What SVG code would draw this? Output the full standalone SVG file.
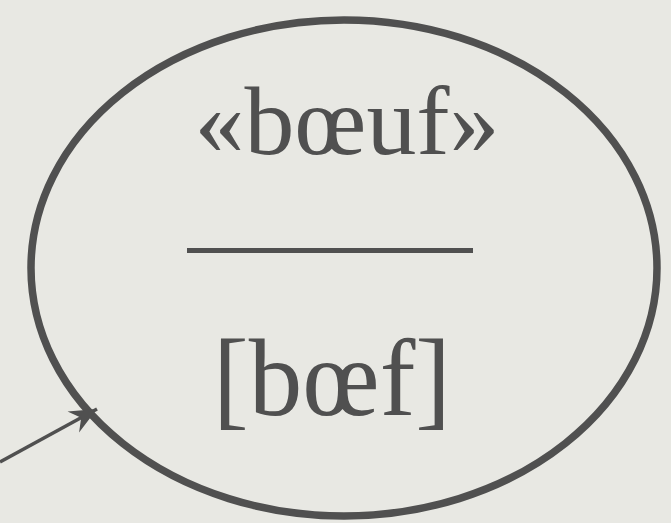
<svg xmlns="http://www.w3.org/2000/svg" width="671" height="523" viewBox="0 0 671 523">
<defs>
<style>
.ink{fill:none;stroke:#505050}
.lbl{font-family:"Liberation Serif","DejaVu Serif",serif;fill:#505050;text-anchor:middle}
</style>
<marker id="head" markerUnits="userSpaceOnUse" markerWidth="40" markerHeight="40" viewBox="-30 -15 40 30" refX="0" refY="0" orient="auto">
<path d="M0,0 L-27,-12 L-18,0 L-27,12 Z" fill="#505050"/>
</marker>
</defs>
<rect width="671" height="523" fill="#e8e8e3"/>
<g id="node-boeuf">
<ellipse class="ink" cx="344" cy="268" rx="313" ry="248" stroke-width="7.5"/>
<text class="lbl" x="347" y="154" font-size="97" textLength="305" lengthAdjust="spacingAndGlyphs">«bœuf»</text>
<line class="ink" x1="187" y1="250.5" x2="473" y2="250.5" stroke-width="5"/>
<text class="lbl" x="332" y="415" font-size="110" textLength="238" lengthAdjust="spacingAndGlyphs">[bœf]</text>
</g>
<g id="connectors">
<line class="ink" x1="0" y1="462" x2="97" y2="409" stroke-width="3.5" marker-end="url(#head)"/>
</g>
</svg>
